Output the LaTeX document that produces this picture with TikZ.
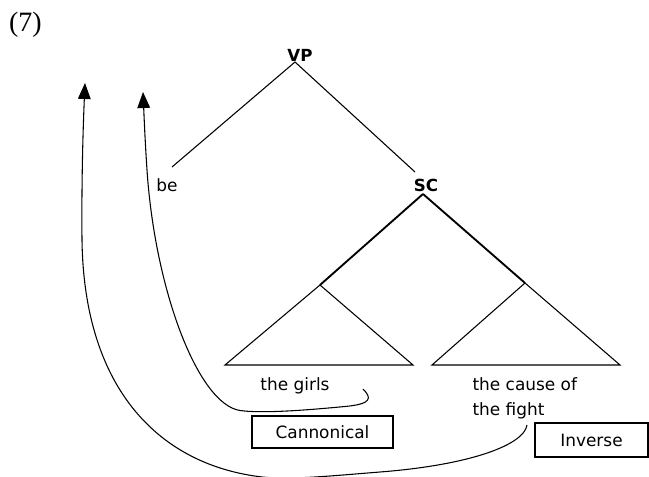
\documentclass[tikz,border=0pt]{standalone}
\usepackage{fontspec}
\setmainfont{Liberation Serif}
\setsansfont{DejaVu Sans}
\usetikzlibrary{arrows.meta}

\tikzset{
  cat/.style={font=\sffamily\bfseries\fontsize{12.5}{15}\selectfont, inner sep=0pt},
  word/.style={font=\sffamily\fontsize{12.7}{19}\selectfont, inner sep=0pt},
  tag/.style={draw, line width=0.8pt, font=\sffamily\fontsize{12.7}{15}\selectfont},
  move/.style={line width=0.8pt, -{Triangle[width=9.5pt,length=12pt]}}
}

\begin{document}
\begin{tikzpicture}[x=0.75pt, y=-0.75pt, line width=0.8pt]
    \useasboundingbox (0,0) rectangle (649,477);
    \node (num) at (25.5,24.5) {\fontsize{21}{24}\selectfont (7)};

    % узлы дерева
    \node[cat] (vp) at (300,55) {VP};
    \node[cat] (sc) at (426,185) {SC};
    \node[word, anchor=base] (be) at (167,192) {be};
    \coordinate (vp-foot) at (295,62);
    \coordinate (sc-foot) at (423,194);
    \coordinate (be-top) at (172,167);
    \coordinate (sc-top) at (415,172);
    \coordinate (np1) at (320,285);
    \coordinate (np2) at (525,283);

    \draw (vp-foot) -- (be-top);
    \draw (vp-foot) -- (sc-top);
    \draw[line width=1.4pt] (sc-foot) -- (np1);
    \draw[line width=1.4pt] (sc-foot) -- (np2);

    % треугольники
    \draw (np1) -- (225,365) -- (413,365) -- cycle;
    \draw (np2) -- (432,365) -- (620,365) -- cycle;

    % подписи
    \node[word, anchor=base] (girls) at (295,390) {the girls};
    \node[word, anchor=north west, align=left] (cause) at (472,377) {the cause of\\the fight};

    % рамки
    \node[tag, minimum width=105.75pt, minimum height=24pt] (canon) at (322.5,432) {Cannonical};
    \node[tag, minimum width=84.75pt, minimum height=25.5pt] (inv) at (591.5,440) {Inverse};

    % стрелки передвижения
    \coordinate (girls-end) at (363,389);
    \coordinate (fight-end) at (527,425);
    \coordinate (tip1) at (143,92);
    \coordinate (tip2) at (85,83);
    \draw[move] (girls-end) .. controls (372,398) and (372,404) .. (345,406.5)
        .. controls (318,409) and (265,414) .. (240,410.5)
        .. controls (198,404) and (155,290) .. (147,170)
        .. controls (145,140) and (144,115) .. (tip1);
    \draw[move] (fight-end) .. controls (524,445) and (470,465) .. (380,472)
        .. controls (330,476) and (290,480) .. (262,477)
        .. controls (160,465) and (84,390) .. (82,240)
        .. controls (81.5,180) and (83,130) .. (tip2);
\end{tikzpicture}
\end{document}
